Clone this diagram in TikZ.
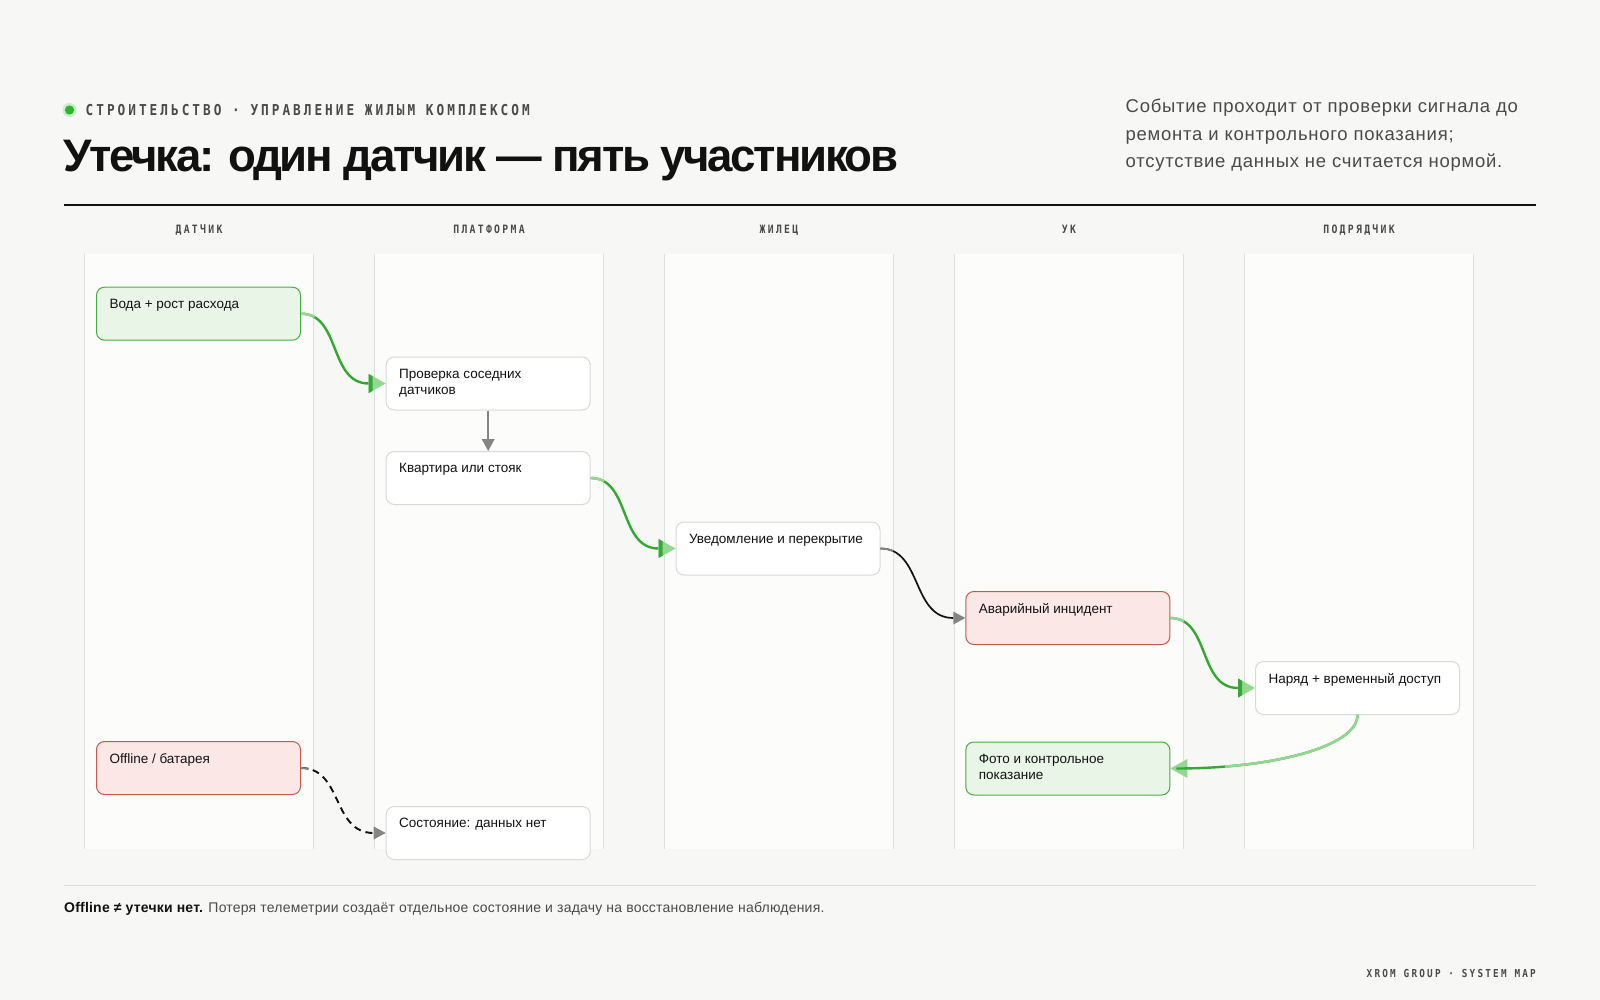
\documentclass[tikz,border=0pt]{standalone}
\usepackage{fontspec}
\setmainfont{Liberation Sans}
\newfontfamily\monof[FakeStretch=0.85,LetterSpace=20]{DejaVu Sans Mono}
\newfontfamily\monoh[FakeStretch=0.85,LetterSpace=20]{DejaVu Sans Mono}
\newfontfamily\monofoot[FakeStretch=0.85,LetterSpace=20]{DejaVu Sans Mono}
\newfontfamily\titlef[LetterSpace=-5]{Liberation Sans}
\newfontfamily\descf[LetterSpace=4]{Liberation Sans}
\newfontfamily\footf[LetterSpace=1.5]{Liberation Sans}
\usetikzlibrary{calc}
\definecolor{bg}{HTML}{F7F7F5}
\definecolor{lanefill}{HTML}{FCFCFB}
\definecolor{laneline}{HTML}{DEDEDE}
\definecolor{gstroke}{HTML}{45AD45}
\definecolor{gfill}{HTML}{E9F6E7}
\definecolor{rstroke}{HTML}{C25A4E}
\definecolor{rfill}{HTML}{FBE8E6}
\definecolor{wstroke}{HTML}{D9D9D9}
\definecolor{gline}{HTML}{33A833}
\definecolor{glight}{HTML}{94D794}
\definecolor{grayc}{HTML}{858585}
\definecolor{ink}{HTML}{111111}
\definecolor{muted}{HTML}{4A4A4A}
\definecolor{dotg}{HTML}{2DB52D}
\newcommand\ntext[1]{\parbox[t][29pt][t]{178pt}{\raggedright #1}}
\newcommand\gtipR[1]{%
  \fill[glight] ($(#1)+(-17,-9.5)$) -- (#1) -- ($(#1)+(-17,9.5)$) -- cycle;
  \fill[gline] ($(#1)+(-17,-9.5)$) -- ($(#1)+(-13,-7.3)$) -- ($(#1)+(-13,7.3)$) -- ($(#1)+(-17,9.5)$) -- cycle;}
\newcommand\ktipR[1]{\fill[grayc] ($(#1)+(-12,-6.5)$) -- (#1) -- ($(#1)+(-12,6.5)$) -- cycle;}
\newcommand\ktipD[1]{\fill[grayc] ($(#1)+(-6.5,-12)$) -- (#1) -- ($(#1)+(6.5,-12)$) -- cycle;}
\begin{document}
\begin{tikzpicture}[x=1pt,y=-1pt,
  card/.style={draw, line width=1pt, rounded corners=8pt, anchor=north west,
    inner xsep=13pt, inner ysep=12pt, text=ink,
    font=\fontsize{13.5}{16.3}\selectfont},
  wcard/.style={card, draw=wstroke, fill=white},
  gcard/.style={card, draw=gstroke, fill=gfill},
  rcard/.style={card, draw=rstroke, fill=rfill},
  lanehead/.style={anchor=base, text=muted, font=\monoh\bfseries\fontsize{11.5}{13}\selectfont},
  gconn/.style={draw=gline, line width=2.4pt},
  glite/.style={draw=glight, line width=2.4pt, dash pattern=on #1 off 2000pt},
  kconn/.style={draw=ink, line width=1.7pt},
  klite/.style={draw=grayc, line width=1.7pt, dash pattern=on #1 off 2000pt},
]
\fill[bg] (0,0) rectangle (1600,1000);

% header
\fill[dotg!25] (69.5,110) circle (7);
\fill[dotg] (69.5,110) circle (4.6);
\node[anchor=base west, inner sep=0, text=muted, font=\monof\bfseries\fontsize{15}{17}\selectfont] (eyebrow) at (85.5,115.5) {СТРОИТЕЛЬСТВО · УПРАВЛЕНИЕ ЖИЛЫМ КОМПЛЕКСОМ};
\node[anchor=base west, inner sep=0, text=ink, font=\titlef\bfseries\fontsize{45.6}{50}\selectfont] (title) at (63,172) {Утечка: один датчик — пять участников};
\node[anchor=base west, inner sep=0, text=muted, font=\descf\fontsize{18.5}{27.3}\selectfont] (desc) at (1125.5,113)
  {\parbox[t]{460pt}{Событие проходит от проверки сигнала до\\ремонта и контрольного показания;\\отсутствие данных не считается нормой.}};
\draw[ink, line width=1.3pt] (64,205) -- (1536,205);

% lanes
\foreach \i in {0,...,4}{
  \fill[lanefill] ({84.5+290*\i},254) rectangle ++(229,595);
  \draw[laneline, line width=0.8pt] ({84.5+290*\i},254) -- ++(0,595);
  \draw[laneline, line width=0.8pt] ({313.5+290*\i},254) -- ++(0,595);
}
\node[lanehead] (h1) at (199,233.8) {ДАТЧИК};
\node[lanehead] (h2) at (489,233.8) {ПЛАТФОРМА};
\node[lanehead] (h3) at (779,233.8) {ЖИЛЕЦ};
\node[lanehead] (h4) at (1069,233.8) {УК};
\node[lanehead] (h5) at (1359,233.8) {ПОДРЯДЧИК};

% cards
\node[gcard] (A) at (96,286.7) {\ntext{Вода + рост расхода}};
\node[wcard] (B) at (385.7,356.5) {\ntext{Проверка соседних\\датчиков}};
\node[wcard] (C) at (385.7,451) {\ntext{Квартира или стояк}};
\node[wcard] (D) at (675.5,521.5) {\ntext{Уведомление и перекрытие}};
\node[rcard] (E) at (965.3,591) {\ntext{Аварийный инцидент}};
\node[wcard] (F) at (1255,661) {\ntext{Наряд + временный доступ}};
\node[gcard] (G) at (965.3,741.5) {\ntext{Фото и контрольное\\показание}};
\node[rcard] (H) at (96,741) {\ntext{Offline / батарея}};
\node[wcard] (I) at (385.7,806) {\ntext{Состояние: данных нет}};

% connectors
\draw[gconn] (A.east) .. controls +(40,0) and +(-40,0) .. ($(B.west)+(-17,0)$);
\draw[glite=14pt] (A.east) .. controls +(40,0) and +(-40,0) .. ($(B.west)+(-17,0)$);
\gtipR{B.west}

\draw[grayc, line width=1.6pt] (B.south) -- ($(C.north)+(0,-12)$);
\ktipD{C.north}

\draw[gconn] (C.east) .. controls +(40,0) and +(-40,0) .. ($(D.west)+(-17,0)$);
\draw[glite=14pt] (C.east) .. controls +(40,0) and +(-40,0) .. ($(D.west)+(-17,0)$);
\gtipR{D.west}

\draw[kconn] (D.east) .. controls +(42,0) and +(-42,0) .. ($(E.west)+(-12,0)$);
\draw[klite=13pt] (D.east) .. controls +(42,0) and +(-42,0) .. ($(E.west)+(-12,0)$);
\ktipR{E.west}

\draw[gconn] (E.east) .. controls +(40,0) and +(-40,0) .. ($(F.west)+(-17,0)$);
\draw[glite=14pt] (E.east) .. controls +(40,0) and +(-40,0) .. ($(F.west)+(-17,0)$);
\gtipR{F.west}

\fill[glight] ($(G.east)+(17,-9.5)$) -- (G.east) -- ($(G.east)+(17,9.5)$) -- cycle;
\draw[gconn] (F.south) .. controls +(0,32) and +(95,0) .. ($(G.east)+(6,0)$);
\draw[glite=150pt] (F.south) .. controls +(0,32) and +(95,0) .. ($(G.east)+(6,0)$);

\draw[kconn, line width=1.9pt, dash pattern=on 7pt off 5pt] (H.east) .. controls +(42,0) and +(-42,0) .. ($(I.west)+(-12,0)$);
\draw[klite=8pt] (H.east) .. controls +(42,0) and +(-42,0) .. ($(I.west)+(-12,0)$);
\ktipR{I.west}

% footer
\draw[laneline, line width=1pt] (64,885) -- (1536,885);
\node[anchor=base west, inner sep=0, text=muted, font=\footf\fontsize{14}{16}\selectfont] (note) at (64,912.5)
  {\textbf{\color{ink}Offline ≠ утечки нет.} Потеря телеметрии создаёт отдельное состояние и задачу на восстановление наблюдения.};
\node[anchor=base east, inner sep=0, text=muted, font=\monofoot\bfseries\fontsize{11}{13}\selectfont] (brand) at (1536,977.5) {XROM GROUP · SYSTEM MAP};
\end{tikzpicture}
\end{document}
